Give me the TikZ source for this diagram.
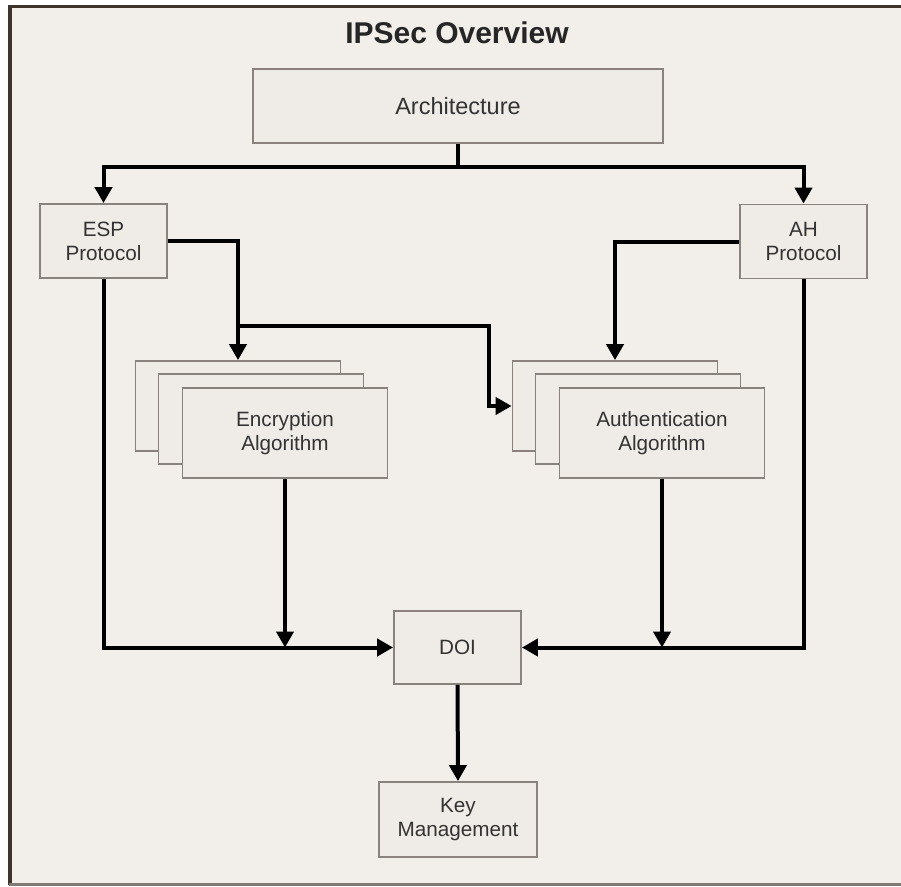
\documentclass[tikz,border=0pt]{standalone}
\usepackage{fontspec}
\setmainfont{Liberation Sans}
\usetikzlibrary{arrows.meta,calc}
\definecolor{pagebg}{HTML}{F2EFEB}
\definecolor{boxfill}{HTML}{EFEBE7}
\definecolor{boxline}{HTML}{8A837D}
\definecolor{frametop}{HTML}{3E342C}
\definecolor{framebot}{HTML}{7F7A75}
\definecolor{txt}{HTML}{333333}
\tikzset{
  x=1pt, y=-1pt,
  block/.style={draw=boxline, line width=1.8pt, fill=boxfill, inner sep=0pt,
    align=center, text=txt, font=\fontsize{20.7}{24}\selectfont},
  small/.style={block, minimum width=127pt, minimum height=74pt},
  algo/.style={block, minimum width=205pt, minimum height=90pt},
  wire/.style={line width=4pt, black, line join=miter},
  flow/.style={wire, -{Triangle[length=16pt,width=17pt]}},
}
\begin{document}
\begin{tikzpicture}
  % page and frame
  \useasboundingbox (0,0) rectangle (901,886);
  \fill[white] (0,0) rectangle (901,886);
  \fill[pagebg] (10,6) rectangle (901,884);
  \draw[frametop, line width=3pt] (8.5,6.5) -- (901,6.5);
  \draw[frametop, line width=3.5pt] (10,5) -- (10,885);
  \draw[framebot, line width=2.5pt] (8.5,884.5) -- (901,884.5);

  \node[font=\bfseries\fontsize{30}{34}\selectfont, text=black!85] (title) at (457,33) {IPSec Overview};

  % boxes
  \node[block, minimum width=410pt, minimum height=74pt,
        font=\fontsize{23.5}{27}\selectfont] (arch) at (458,106) {Architecture};
  \node[small] (esp) at (103.5,241) {ESP\\Protocol};
  \node[small] (ah) at (803.5,241.5) {AH\\Protocol};

  \node[algo] (encB) at (238,406) {};
  \node[algo] (encM) at (261,419) {};
  \node[algo] (encF) at (285,433) {Encryption\\Algorithm};

  \node[algo] (authB) at (615,406) {};
  \node[algo] (authM) at (638,419) {};
  \node[algo] (authF) at (662,433) {Authentication\\Algorithm};

  \node[small, minimum height=73pt] (doi) at (457.5,647.5) {DOI};
  \node[block, minimum width=158pt, minimum height=75pt] (key) at (458,819.5) {Key\\Management};

  % connectors (y grows downwards)
  \coordinate (split) at ($(arch.south)+(0,23)$);
  \draw[wire] (arch.south) -- (split);
  \draw[flow] (split) -| (esp.north);
  \draw[flow] (split) -| (ah.north);

  \draw[flow] (esp.east) -| (encB.north);
  \coordinate (branch) at ($(encB.north)+(0,-34)$);
  \draw[flow] (branch) -| ($(authB.west)+(-23,0)$) -- (authB.west);

  \draw[flow] (ah.west) -| (authB.north);

  \draw[flow] (esp.south) |- (doi.west);
  \draw[flow] (ah.south) |- (doi.east);
  \draw[flow] (encF.south) -- (encF.south |- doi.west);
  \draw[flow] (authF.south) -- (authF.south |- doi.east);
  \draw[flow] (doi.south) -- (key.north);
\end{tikzpicture}
\end{document}
